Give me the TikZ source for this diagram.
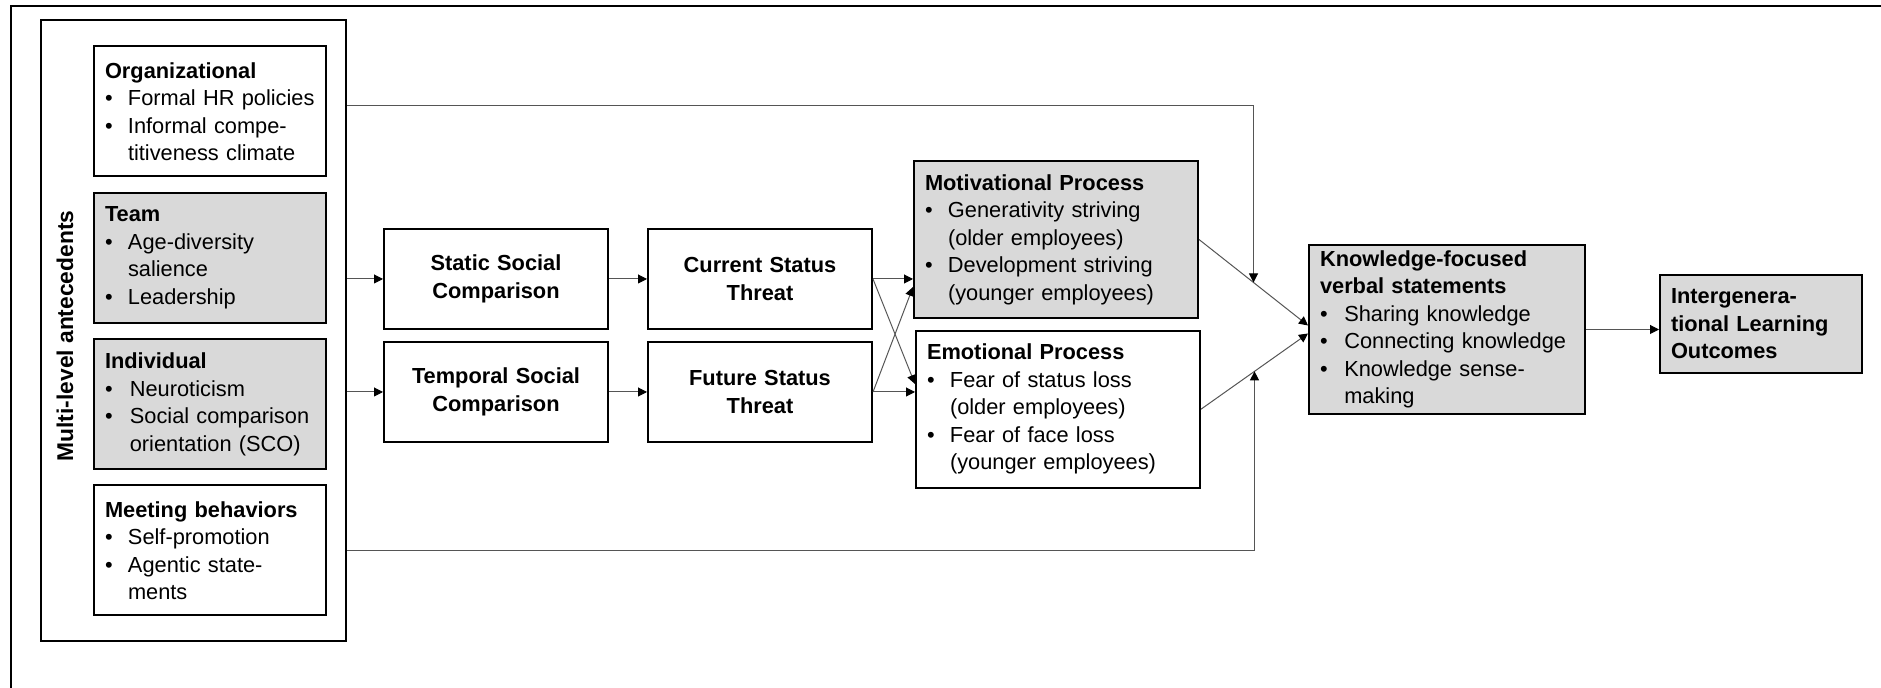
\documentclass[tikz,border=0pt]{standalone}
\usepackage{fontspec}
\setmainfont{Liberation Sans}
\usepackage{tikz}
\usetikzlibrary{arrows.meta, positioning, calc}
\definecolor{boxgray}{RGB}{217, 217, 217}
\definecolor{linegray}{RGB}{85, 85, 85}
\newcommand{\bul}[1][11.5pt]{\makebox[#1][l]{\textbullet}}
\newcommand{\cont}[1][11.5pt]{\hspace*{#1}}

\begin{document}
\begin{tikzpicture}[
    x=0.5pt, y=-0.5pt,
    base/.style={draw, line width=1pt, fill=white, align=left, inner xsep=5.5pt, inner ysep=0pt, font=\fontsize{10.9pt}{13.75pt}\selectfont},
    levelbox/.style={base, text width=105pt, minimum height=65pt},
    stepbox/.style={base, align=center, text width=101pt, minimum height=50pt, font=\fontsize{10.9pt}{13.75pt}\selectfont\bfseries},
    procbox/.style={base, text width=131pt, minimum height=78.5pt},
    shaded/.style={fill=boxgray},
    arrow/.style={-{Triangle[length=4.5pt, width=4.5pt, color=black]}, line width=0.5pt, linegray}
]
    \useasboundingbox (0,0) rectangle (1881,688);

    % frame
    \draw[line width=1pt] (11,688) |- (1881,6.5);

    % --- LEFT: MULTI-LEVEL ANTECEDENTS ---
    \node[draw, line width=1pt, minimum width=152.5pt, minimum height=310.5pt, inner sep=0pt] (anteced) at (193.5, 330.5) {};
    \node[rotate=90, font=\fontsize{11.4pt}{13pt}\selectfont\bfseries] (multilabel) at (65, 336) {Multi-level antecedents};

    \node[levelbox] (org) at (210, 111.5) {\textbf{Organizational}\\ \bul Formal HR policies\\ \bul Informal compe-\\ \cont titiveness climate};
    \node[levelbox, shaded] (team) at (210, 258) {\textbf{Team}\\ \bul Age-diversity\\ \cont salience\\ \bul Leadership};
    \node[levelbox, shaded] (indiv) at (210, 404.5) {\textbf{Individual}\\ \bul[8.8pt] Neuroticism\\ \bul[8.8pt] Social comparison\\ \cont[8.8pt] orientation (SCO)};
    \node[levelbox] (meet) at (210, 550.5) {\textbf{Meeting behaviors}\\ \bul Self-promotion\\ \bul Agentic state-\\ \cont ments};

    % --- MIDDLE: COMPARISON AND THREAT ---
    \node[stepbox] (static) at (496, 279) {Static Social\\ Comparison};
    \node[stepbox] (temporal) at (496, 392) {Temporal Social\\ Comparison};
    \node[stepbox] (current) at (760, 279) {Current Status\\ Threat};
    \node[stepbox] (future) at (760, 392) {Future Status\\ Threat};

    \draw[arrow] (static.west -| anteced.east) -- (static.west);
    \draw[arrow] (temporal.west -| anteced.east) -- (temporal.west);
    \draw[arrow] (static) -- (current);
    \draw[arrow] (temporal) -- (future);

    % --- PROCESSES ---
    \node[procbox, shaded] (motiv) at (1056, 239.5) {\textbf{Motivational Process}\\ \bul Generativity striving\\ \cont (older employees)\\ \bul Development striving\\ \cont (younger employees)};
    \node[procbox] (emot) at (1058, 409.2) {\textbf{Emotional Process}\\ \bul Fear of status loss\\ \cont (older employees)\\ \bul Fear of face loss\\ \cont (younger employees)};

    \draw[arrow] (current.east) -- (current.east -| motiv.west);
    \draw[arrow] (future.east) -- (future.east -| emot.west);
    \draw[arrow] (current.east) -- ($(future.east -| emot.west)+(0,-8)$);
    \draw[arrow] (future.east) -- ($(current.east -| motiv.west)+(0,8)$);

    % --- OUTCOMES ---
    \node[base, shaded, text width=127pt, minimum height=84.5pt] (know) at (1447, 329.5) {\textbf{Knowledge-focused}\\ \textbf{verbal statements}\\ \bul[8.5pt] Sharing knowledge\\ \bul[8.5pt] Connecting knowledge\\ \bul[8.5pt] Knowledge sense-\\ \cont[8.5pt] making};
    \node[base, shaded, text width=90pt, minimum height=49pt, font=\fontsize{10.9pt}{13.75pt}\selectfont\bfseries] (outcome) at (1761, 324) {Intergenera-\\ tional Learning\\ Outcomes};

    \draw[arrow] (motiv.east) -- coordinate[midway] (modtop) ([yshift=2pt]know.west);
    \draw[arrow] (emot.east) -- coordinate[midway] (modbot) ([yshift=-2pt]know.west);
    \draw[arrow] (know.east) -- (know.east -| outcome.west);

    % organizational and meeting paths feed into the two process links
    \draw[arrow] ($(org.east -| anteced.east)+(0,-6)$) -| (modtop);
    \draw[arrow] (meet.east -| anteced.east) -| (modbot);

\end{tikzpicture}
\end{document}
